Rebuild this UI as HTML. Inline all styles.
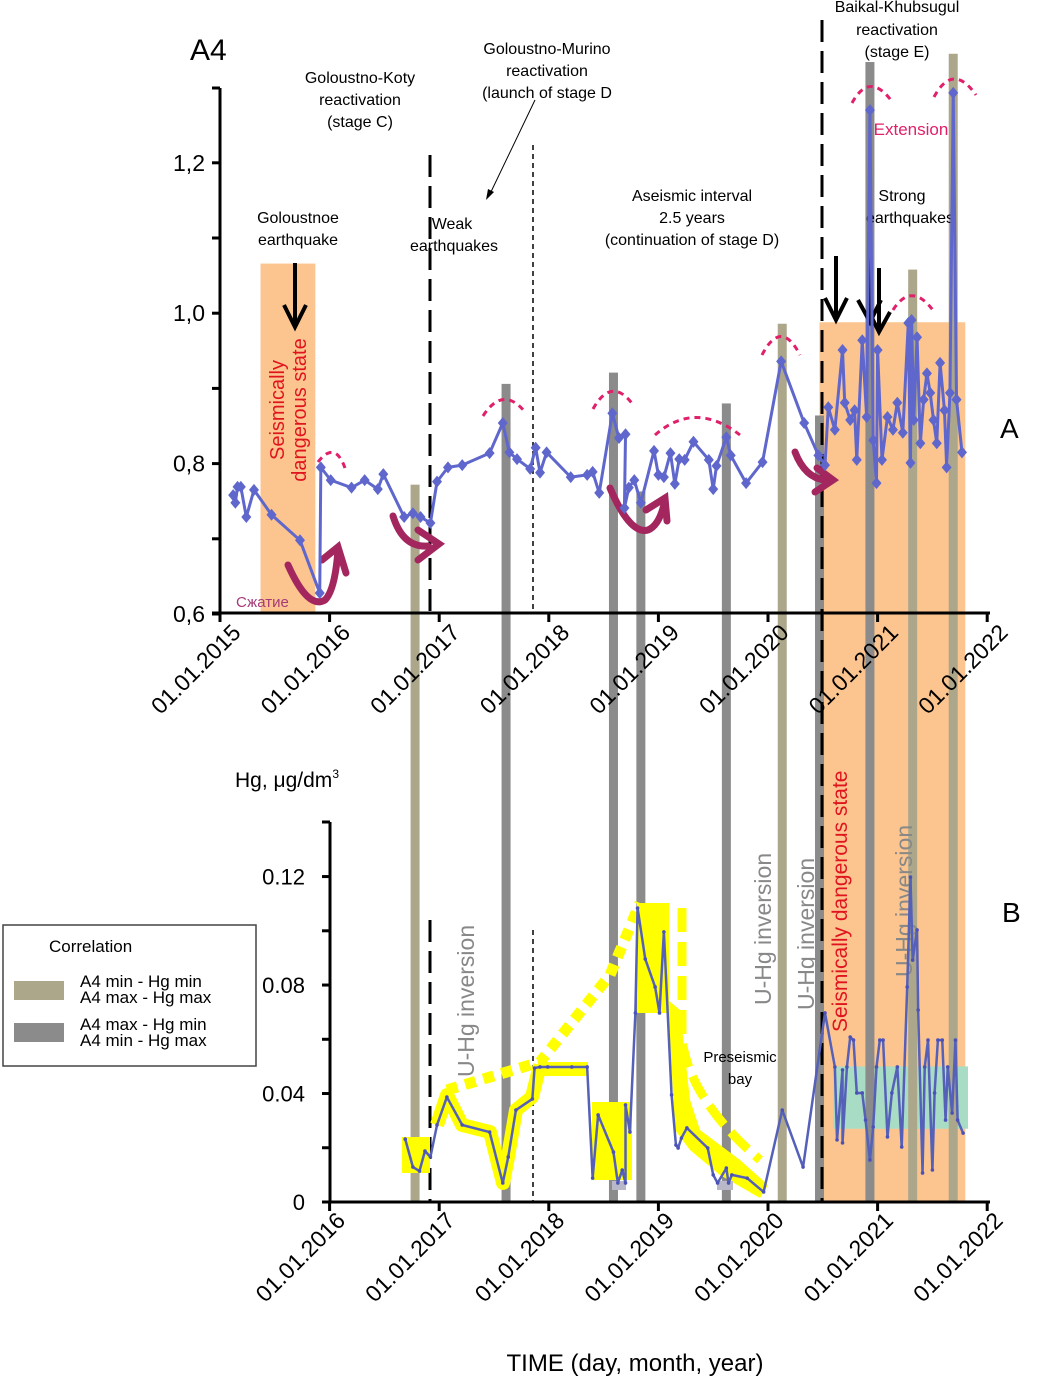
<!DOCTYPE html>
<html><head><meta charset="utf-8"><style>
html,body{margin:0;padding:0;background:#fff;}
svg{display:block;font-family:"Liberation Sans",Arial,sans-serif;}
</style></head><body>
<svg id="chart" width="1058" height="1379" viewBox="0 0 1058 1379" xmlns="http://www.w3.org/2000/svg">
<g id="bg"></g>
<g id="bars"></g>
<g id="fg"></g>
</svg>
<script>
// ---- data ----
const topTimes=[2015.12,2015.14,2015.16,2015.19,2015.24,2015.31,2015.47,2015.73,2015.91,2015.92,2016.01,2016.20,2016.32,2016.44,2016.49,2016.68,2016.76,2016.83,2016.92,2016.98,2017.08,2017.21,2017.46,2017.58,2017.64,2017.71,2017.83,2017.88,2017.92,2017.98,2018.20,2018.35,2018.40,2018.46,2018.58,2018.64,2018.70,2018.69,2018.73,2018.78,2018.84,2018.96,2019.00,2019.05,2019.11,2019.15,2019.19,2019.24,2019.32,2019.46,2019.50,2019.53,2019.62,2019.66,2019.80,2019.95,2020.12,2020.33,2020.46,2020.52,2020.55,2020.61,2020.68,2020.70,2020.75,2020.79,2020.81,2020.86,2020.90,2020.93,2020.96,2020.99,2021.00,2021.04,2021.09,2021.14,2021.18,2021.23,2021.28,2021.30,2021.31,2021.33,2021.36,2021.39,2021.42,2021.45,2021.48,2021.51,2021.54,2021.57,2021.61,2021.63,2021.66,2021.69,2021.72,2021.77];
const topValues=[.758,.748,.769,.769,.729,.765,.732,.698,.628,.795,.778,.768,.778,.766,.786,.729,.734,.729,.721,.776,.795,.798,.814,.854,.815,.806,.793,.821,.788,.815,.782,.785,.789,.761,.867,.834,.839,.741,.768,.778,.748,.817,.785,.782,.814,.773,.806,.805,.829,.805,.766,.797,.835,.811,.774,.802,.936,.854,.811,.798,.875,.845,.951,.881,.858,.871,.805,.964,.862,1.270,.831,.774,.951,.805,.862,.845,.881,.841,.987,.801,.991,.858,.968,.827,.885,.920,.894,.858,.827,.934,.871,.795,.894,1.293,.885,.815];
const hgTimes=[2016.69,2016.76,2016.82,2016.87,2016.92,2016.98,2017.07,2017.21,2017.46,2017.58,2017.63,2017.70,2017.85,2017.87,2017.92,2017.99,2018.21,2018.35,2018.40,2018.45,2018.59,2018.63,2018.67,2018.70,2018.70,2018.74,2018.79,2018.81,2018.88,2018.97,2019.01,2019.05,2019.12,2019.16,2019.18,2019.21,2019.26,2019.45,2019.50,2019.54,2019.62,2019.64,2019.67,2019.81,2019.96,2020.13,2020.32,2020.52,2020.61,2020.63,2020.68,2020.68,2020.72,2020.75,2020.78,2020.81,2020.86,2020.89,2020.93,2020.96,2020.99,2021.02,2021.05,2021.09,2021.13,2021.18,2021.22,2021.27,2021.30,2021.32,2021.36,2021.37,2021.41,2021.43,2021.46,2021.50,2021.52,2021.55,2021.59,2021.62,2021.64,2021.68,2021.71,2021.73,2021.78];
const hgValues=[.0232,.0129,.0114,.0188,.0166,.0284,.0387,.0284,.0258,.0070,.0166,.0339,.0380,.0494,.0498,.0498,.0498,.0498,.0088,.0321,.0184,.0070,.0118,.0070,.0358,.0258,.0697,.1084,.0896,.0793,.0697,.0996,.0395,.0210,.0199,.0236,.0273,.0199,.0100,.0070,.0125,.0070,.0100,.0088,.0037,.0339,.0129,.0697,.0498,.0229,.0487,.0218,.0498,.0608,.0597,.0402,.0402,.0302,.0155,.0277,.0498,.0597,.0597,.0240,.0402,.0498,.0203,.0793,.1198,.0892,.1003,.0708,.0107,.0498,.0597,.0118,.0402,.0597,.0597,.0302,.0498,.0328,.0597,.0302,.0254];
const barTimes=[2016.78,2017.61,2018.59,2018.84,2019.62,2020.13,2020.47,2020.93,2021.32,2021.69];
const barTops=[.772,.906,.921,.763,.880,.986,.864,1.334,1.058,1.345];
const barTypes=["same","inv","inv","inv","inv","same","inv","inv","same","same"];
const topTickLabels=["1,2","1,0","0,8","0,6"];
const topTickVals=[1.2,1.0,0.8,0.6];
const botTickLabels=["0.12","0.08","0.04","0"];
const botTickVals=[0.12,0.08,0.04,0];
const topYears=[2015,2016,2017,2018,2019,2020,2021,2022];
const botYears=[2016,2017,2018,2019,2020,2021,2022];

// ---- scales ----
const X=t=>220+109.6*(t-2015);
const YT=v=>614-(v-0.6)*752;
const YB=v=>1202-v*2712;
const NS="http://www.w3.org/2000/svg";
function mk(parent,tag,attrs,text){const e=document.createElementNS(NS,tag);for(const k in attrs)e.setAttribute(k,attrs[k]);if(text!==undefined)e.textContent=text;document.getElementById(parent).appendChild(e);return e;}

let e;
e=mk('bg','rect',{x:X(2015.37),y:YT(1.066),width:X(2015.87)-X(2015.37),height:614-YT(1.066),fill:'#fcc58f'});


e=mk('bg','rect',{x:X(2020.47),y:YT(0.988),width:X(2021.8)-X(2020.47),height:1202-YT(0.988),fill:'#fcc58f'});


e=mk('bg','rect',{x:833,y:YB(0.050),width:135,height:YB(0.027)-YB(0.050),fill:'#a9dcc5'});



barTimes.forEach((t,i)=>{
  const r=mk('bars','rect',{x:X(t)-4.5,y:YT(barTops[i]),width:9,height:1203-YT(barTops[i]),fill:barTypes[i]==='same'?'#aca78b':'#8b8b8b'});
  
  
});
</script>
<script>
const fg=document.getElementById('fg');
fg.insertAdjacentHTML('beforeend',`
<g stroke="#000" fill="none">
<line x1="430" y1="155" x2="430" y2="614" stroke-width="3" stroke-dasharray="22,9"/>
<line x1="430" y1="920" x2="430" y2="1202" stroke-width="3" stroke-dasharray="22,9"/>
<line x1="822" y1="20" x2="822" y2="1202" stroke-width="3" stroke-dasharray="22,9"/>
<line x1="533" y1="145" x2="533" y2="614" stroke-width="1.5" stroke-dasharray="5,4"/>
<line x1="533" y1="930" x2="533" y2="1202" stroke-width="1.5" stroke-dasharray="5,4"/>
</g>
<g fill="#ffff00" stroke="none">
<rect x="402" y="1137" width="28" height="36"/>
<rect x="592" y="1102" width="40" height="78"/>
<rect x="637" y="903" width="32" height="110"/>
<rect x="538" y="1062" width="50" height="14"/>
<polyline points="437,1125 447,1095 462,1125 490,1132 503,1183 508,1157 516,1110 532,1097 540,1065" fill="none" stroke="#ffff00" stroke-width="14" stroke-linejoin="round"/>
<polygon points="668,1000 675,1130 690,1150 720,1175 760,1198 768,1185 740,1160 700,1130 690,1100 680,1010"/>
<polyline points="447,1090 540,1062 610,975 640,903" fill="none" stroke="#ffff00" stroke-width="11" stroke-dasharray="11,8"/>
<path d="M682,908 L682,1040 Q690,1100 760,1160" fill="none" stroke="#ffff00" stroke-width="9" stroke-dasharray="24,10"/>
<rect x="612" y="1181" width="14" height="9" fill="#b8b8c8"/>
<rect x="717" y="1181" width="16" height="9" fill="#b8b8c8"/>
</g>
<g stroke="#000" stroke-width="3" fill="none">
<line x1="220" y1="88" x2="220" y2="614"/><line x1="212" y1="88" x2="220" y2="88"/>
<line x1="212" y1="613" x2="990" y2="613"/>
<line x1="330" y1="822" x2="330" y2="1202"/><line x1="322" y1="822" x2="330" y2="822"/>
<line x1="322" y1="1202" x2="990" y2="1202"/>
</g>
<text x="190" y="60" font-size="30">A4</text>
<text x="1000" y="438" font-size="28">A</text>
<text x="1002" y="922" font-size="28">B</text>
<g font-size="16" text-anchor="middle" fill="#000">
<text x="360" y="83">Goloustno-Koty</text><text x="360" y="105">reactivation</text><text x="360" y="127">(stage C)</text>
<text x="547" y="54">Goloustno-Murino</text><text x="547" y="76">reactivation</text><text x="547" y="98">(launch of stage D</text>
<text x="897" y="12">Baikal-Khubsugul</text><text x="897" y="35">reactivation</text><text x="897" y="57">(stage E)</text>
<text x="298" y="223">Goloustnoe</text><text x="298" y="245">earthquake</text>
<text x="452" y="229">Weak</text><text x="454" y="251">earthquakes</text>
<text x="692" y="201">Aseismic interval</text><text x="692" y="223">2.5 years</text><text x="692" y="245">(continuation of stage D)</text>
<text x="902" y="201">Strong</text><text x="910" y="223">earthquakes</text>
<text x="740" y="1062" font-size="15">Preseismic</text><text x="740" y="1084" font-size="15">bay</text>
</g>
<line x1="535" y1="100" x2="489" y2="196" stroke="#000" stroke-width="1"/>
<polygon points="486,200 488,189 494,192" fill="#000"/>
<text x="911" y="135" font-size="17" fill="#e0206a" text-anchor="middle">Extension</text>
<text x="236" y="607" font-size="15" fill="#a63a78">Сжатие</text>
<g fill="#e0141e" font-size="20" text-anchor="middle">
<text transform="translate(284,410) rotate(-90)">Seismically</text>
<text transform="translate(306,410) rotate(-90)">dangerous state</text>
</g>
<text transform="translate(847,1032) rotate(-90)" fill="#e0141e" font-size="21">Seismically dangerous state</text>
<g fill="#888" font-size="23">
<text transform="translate(474,1077) rotate(-90)">U-Hg inversion</text>
<text transform="translate(771,1005) rotate(-90)">U-Hg inversion</text>
<text transform="translate(814,1010) rotate(-90)">U-Hg inversion</text>
<text transform="translate(912,977) rotate(-90)">U-Hg inversion</text>
</g>
<text x="235" y="787" font-size="21">Hg, μg/dm<tspan font-size="12" dy="-9">3</tspan></text>
<text x="635" y="1371" font-size="24" text-anchor="middle">TIME (day, month, year)</text>
<g stroke="#000" stroke-width="4" fill="none">
<line x1="295" y1="263" x2="295" y2="326"/><polyline points="284,305 295,327 306,305"/>
<line x1="836" y1="256" x2="836" y2="318"/><polyline points="825,298 836,320 847,298"/>
<line x1="869" y1="258" x2="870" y2="318"/><polyline points="858,300 870,322 881,300"/>
<line x1="879" y1="268" x2="879" y2="330"/><polyline points="869,312 879,332 890,312"/>
</g>
<g stroke="#a3265f" stroke-width="7" fill="none" stroke-linecap="round">
<path d="M288,565 Q308,610 325,600 Q335,590 338,550"/><polyline points="322,560 338,547 346,573"/>
<path d="M393,516 Q403,548 428,546"/><polyline points="418,530 439,544 418,560"/>
<path d="M610,488 Q630,535 648,530 Q660,525 665,500"/><polyline points="646,510 665,498 667,521"/>
<path d="M795,452 Q805,478 825,480"/><polyline points="817,468 833,480 815,492"/>
</g>
<g stroke="#e0206a" stroke-width="3" fill="none" stroke-dasharray="6,5">
<path d="M318,462 Q335,440 345,468"/>
<path d="M483,416 Q503,385 525,412"/>
<path d="M593,409 Q612,375 634,406"/>
<path d="M655,435 Q695,400 740,435"/>
<path d="M762,355 Q781,318 800,355"/>
<path d="M852,103 Q870,70 893,103"/>
<path d="M893,310 Q912,280 935,313"/>
<path d="M934,97 Q953,62 976,95"/>
</g>
<g>
<rect x="3" y="925" width="253" height="141" fill="#fff" stroke="#444" stroke-width="1.5"/>
<text x="49" y="952" font-size="17">Correlation</text>
<rect x="14" y="981" width="50" height="19" fill="#aca78b"/>
<rect x="14" y="1023" width="50" height="19" fill="#8b8b8b"/>
<g font-size="17"><text x="80" y="987">A4 min - Hg min</text><text x="80" y="1003">A4 max - Hg max</text>
<text x="80" y="1030">A4 max - Hg min</text><text x="80" y="1046">A4 min - Hg max</text></g>
</g>
`);
let el;
topTickVals.forEach((v,i)=>{
  el=mk('fg','text',{x:205,y:YT(v)+8,'font-size':23,'text-anchor':'end'},topTickLabels[i]);
  
  
});
[0.6,0.7,0.8,0.9,1.0,1.1,1.2].forEach(v=>{mk('fg','line',{x1:212,y1:YT(v),x2:220,y2:YT(v),stroke:'#000','stroke-width':3});});
botTickVals.forEach((v,i)=>{
  el=mk('fg','text',{x:305,y:YB(v)+8,'font-size':22,'text-anchor':'end'},botTickLabels[i]);
  
  
});
[0,0.02,0.04,0.06,0.08,0.1,0.12].forEach(v=>{mk('fg','line',{x1:322,y1:YB(v),x2:330,y2:YB(v),stroke:'#000','stroke-width':3});});
topYears.forEach(y=>{
  const x=X(y);
  mk('fg','line',{x1:x,y1:613,x2:x,y2:622,stroke:'#000','stroke-width':3});
  el=mk('fg','text',{transform:`translate(${x+22},${634}) rotate(-45)`,'font-size':23,'text-anchor':'end'},'01.01.'+y);
  
  
});
botYears.forEach(y=>{
  const x=X(y);
  mk('fg','line',{x1:x,y1:1202,x2:x,y2:1211,stroke:'#000','stroke-width':3});
  el=mk('fg','text',{transform:`translate(${x+17},${1222}) rotate(-45)`,'font-size':23,'text-anchor':'end'},'01.01.'+y);
  
  
});
el=mk('fg','polyline',{points:topTimes.map((t,i)=>X(t)+','+YT(topValues[i])).join(' '),fill:'none',stroke:'#5f67cc','stroke-width':3,'stroke-linejoin':'round'});


topTimes.forEach((t,i)=>{
  const x=X(t),y=YT(topValues[i]);
  el=mk('fg','polygon',{points:`${x},${y-6} ${x+5},${y} ${x},${y+6} ${x-5},${y}`,fill:'#5f67cc'});
  
  
});
el=mk('fg','polyline',{points:hgTimes.map((t,i)=>X(t)+','+YB(hgValues[i])).join(' '),fill:'none',stroke:'#5560b8','stroke-width':2.5,'stroke-linejoin':'round'});


hgTimes.forEach((t,i)=>{
  el=mk('fg','circle',{cx:X(t),cy:YB(hgValues[i]),r:1.8,fill:'#4a52b8'});
  
  
});
</script>
</body></html>
